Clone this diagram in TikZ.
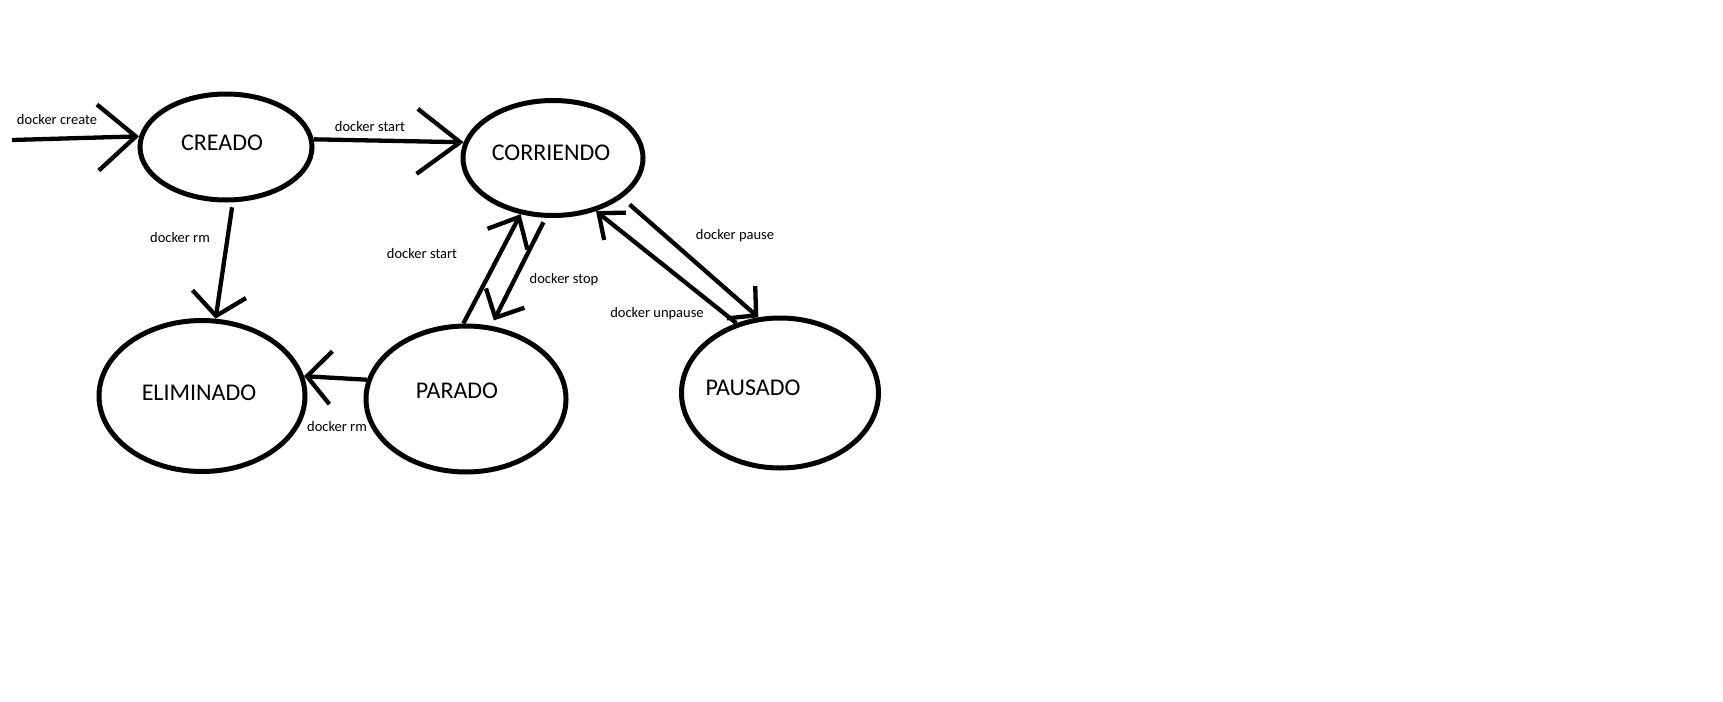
\documentclass[tikz,border=0pt]{standalone}
\usepackage{fontspec}
\setmainfont{Carlito}
\usetikzlibrary{arrows.meta,shapes.geometric}
\begin{document}
\begin{tikzpicture}[x=1pt,y=-1pt,
  state/.style={ellipse, draw, line width=5pt, inner sep=0pt},
  stxt/.style={font=\fontsize{24}{28}\selectfont, inner sep=0pt, text depth=0pt},
  lbl/.style={font=\fontsize{14.5}{17}\selectfont, inner sep=0pt},
  conn/.style={line width=4.3pt},
  hd/.style 2 args={-{Straight Barb[length=#1pt,width=#2pt]}},
]
\useasboundingbox (0,0) rectangle (1723,701);
\fill[white] (0,0) rectangle (1723,701);

% states
\node[state, minimum width=172pt, minimum height=106pt] (creado) at (226,147) {};
\node[state, minimum width=180pt, minimum height=115pt] (corriendo) at (553,158) {};
\node[state, minimum width=206pt, minimum height=151pt] (eliminado) at (202,396) {};
\node[state, minimum width=200pt, minimum height=146pt] (parado) at (466,399) {};
\node[state, minimum width=197pt, minimum height=150pt] (pausado) at (780,393) {};

\node[stxt] (creadot) at (222,143) {CREADO};
\node[stxt] (corriendot) at (551,153) {CORRIENDO};
\node[stxt] (eliminadot) at (199,393) {ELIMINADO};
\node[stxt] (paradot) at (457,391) {PARADO};
\node[stxt] (pausadot) at (753,388) {PAUSADO};

% connectors
\coordinate (cstart) at (12,140);
\draw[conn, hd={38}{66}] (cstart) -- (creado.173);
\draw[conn, hd={43}{65}] (creado.5) -- (corriendo.170);
\draw[conn, hd={22}{54}, shorten <=5pt] (creado.-83) -- (eliminado.80);
\draw[conn, hd={24}{53}] (parado.169) -- (eliminado.11);
\draw[conn, hd={25}{45}] (parado.92) -- (corriendo.-120);
\draw[conn, hd={22}{43}, shorten <=5pt, shorten >=6pt] (corriendo.-97) -- (parado.71);
\draw[conn, hd={20}{43}, shorten <=10pt] (corriendo.-30) -- (pausado.106);
\draw[conn, hd={21}{35}] (pausado.122) -- (corriendo.-51);

% labels
\node[lbl] (l1) at (57,120) {docker create};
\node[lbl] (l2) at (370,127) {docker start};
\node[lbl] (l3) at (180,238) {docker rm};
\node[lbl] (l4) at (422,254) {docker start};
\node[lbl] (l5) at (564,280) {docker stop};
\node[lbl] (l6) at (735,236) {docker pause};
\node[lbl] (l7) at (657,314) {docker unpause};
\node[lbl] (l8) at (337,427) {docker rm};
\end{tikzpicture}
\end{document}
